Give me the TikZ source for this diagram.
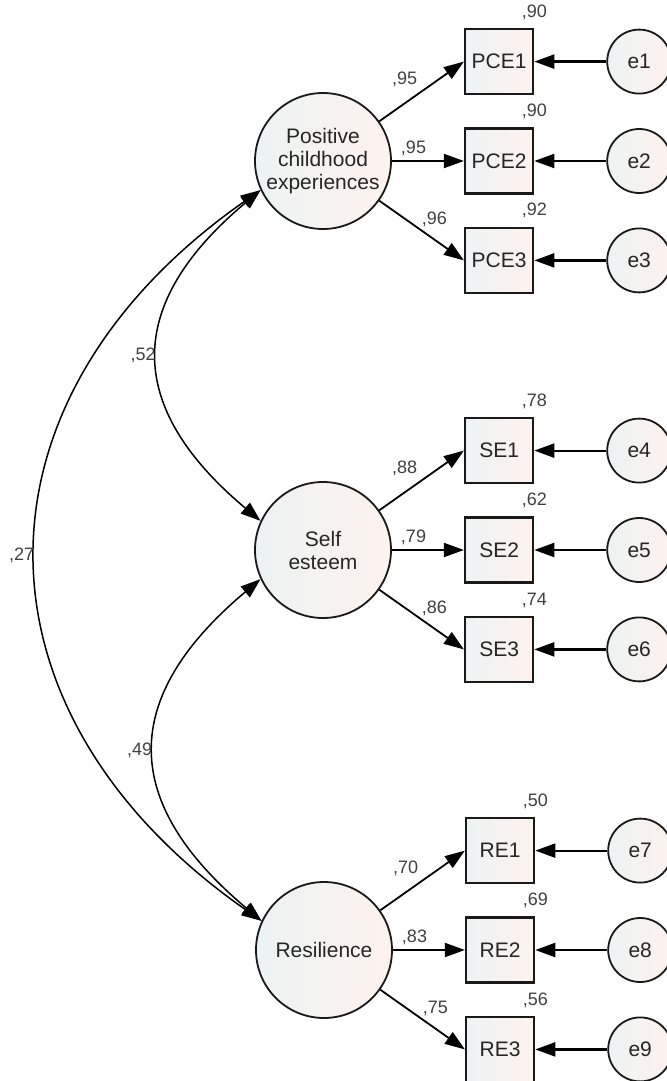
\documentclass[tikz,border=0pt]{standalone}
\usepackage{fontspec}
\setsansfont{Liberation Sans}
\usetikzlibrary{positioning,arrows.meta}

\definecolor{shadeL}{RGB}{236,243,243}
\definecolor{shadeR}{RGB}{254,242,238}

\begin{document}
\begin{tikzpicture}[
  x=0.5pt, y=0.5pt,
  font=\sffamily,
  latent/.style={circle, draw=black!90, line width=0.9pt, minimum size=68pt, inner sep=0pt,
                 left color=shadeL, right color=shadeR, align=center,
                 font=\sffamily\fontsize{10.5}{11.5}\selectfont, text=black!85},
  obs/.style={draw=black!90, line width=1.2pt, minimum width=34pt, minimum height=32.5pt,
              inner sep=0pt, left color=shadeL, right color=shadeR,
              font=\sffamily\fontsize{10.5}{12}\selectfont, text=black!85},
  err/.style={circle, draw=black!90, line width=0.9pt, minimum size=32pt, inner sep=0pt,
              left color=shadeL, right color=shadeR,
              font=\sffamily\fontsize{10.5}{12}\selectfont, text=black!85},
  lbl/.style={font=\sffamily\fontsize{9}{10}\selectfont, text=black!75, inner sep=1pt},
  load/.style={-{Triangle[length=10pt,width=7pt]}, line width=0.9pt},
  resid/.style={-{Triangle[length=10pt,width=7pt]}, line width=1.1pt},
  cov/.style={{Triangle[length=10pt,width=7pt]}-{Triangle[length=10pt,width=7pt]}, line width=0.75pt},
  node distance=16pt and 36pt,
]
  \useasboundingbox (0,0) rectangle (667,-1081);

  % Latent factors
  \node[latent] (pce) at (323,-161) {Positive\\childhood\\experiences};
  \node[latent] (se) at (323,-550) {Self\\esteem};
  \node[latent] (res) at (324,-950) {Resilience};

  % Positive childhood experiences block
  \node[obs, right=of pce] (pce2) {PCE2};
  \node[obs, above=of pce2] (pce1) {PCE1};
  \node[obs, below=of pce2] (pce3) {PCE3};
  \node[err, right=of pce1] (e1) {e1};
  \node[err, right=of pce2] (e2) {e2};
  \node[err, right=of pce3] (e3) {e3};

  % Self esteem block
  \node[obs, right=of se] (se2) {SE2};
  \node[obs, above=of se2] (se1) {SE1};
  \node[obs, below=of se2] (se3) {SE3};
  \node[err, right=of se1] (e4) {e4};
  \node[err, right=of se2] (e5) {e5};
  \node[err, right=of se3] (e6) {e6};

  % Resilience block
  \node[obs, right=of res] (re2) {RE2};
  \node[obs, above=of re2] (re1) {RE1};
  \node[obs, below=of re2] (re3) {RE3};
  \node[err, right=of re1] (e7) {e7};
  \node[err, right=of re2] (e8) {e8};
  \node[err, right=of re3] (e9) {e9};

  % Loadings
  \draw[load] (pce) -- (pce1.west) node[lbl, pos=0.3, above=7pt] (l1) {,95};
  \draw[load] (pce) -- (pce2.west) node[lbl, pos=0.3, above=1pt] (l2) {,95};
  \draw[load] (pce) -- (pce3.west) node[lbl, pos=0.65, above=5pt] (l3) {,96};
  \draw[load] (se) -- (se1.west) node[lbl, pos=0.3, above=7pt] (l4) {,88};
  \draw[load] (se) -- (se2.west) node[lbl, pos=0.3, above=1pt] (l5) {,79};
  \draw[load] (se) -- (se3.west) node[lbl, pos=0.65, above=5pt] (l6) {,86};
  \draw[load] (res) -- (re1.west) node[lbl, pos=0.3, above=7pt] (l7) {,70};
  \draw[load] (res) -- (re2.west) node[lbl, pos=0.3, above=1pt] (l8) {,83};
  \draw[load] (res) -- (re3.west) node[lbl, pos=0.65, above=5pt] (l9) {,75};

  % Residuals
  \draw[resid] (e1) -- (pce1);
  \draw[resid] (e2) -- (pce2);
  \draw[resid] (e3) -- (pce3);
  \draw[resid] (e4) -- (se1);
  \draw[resid] (e5) -- (se2);
  \draw[resid] (e6) -- (se3);
  \draw[resid] (e7) -- (re1);
  \draw[resid] (e8) -- (re2);
  \draw[resid] (e9) -- (re3);

  % Squared multiple correlations
  \node[lbl, above=3pt of pce1.north east] (v1) {,90};
  \node[lbl, above=3pt of pce2.north east] (v2) {,90};
  \node[lbl, above=3pt of pce3.north east] (v3) {,92};
  \node[lbl, above=3pt of se1.north east] (v4) {,78};
  \node[lbl, above=3pt of se2.north east] (v5) {,62};
  \node[lbl, above=3pt of se3.north east] (v6) {,74};
  \node[lbl, above=3pt of re1.north east] (v7) {,50};
  \node[lbl, above=3pt of re2.north east] (v8) {,69};
  \node[lbl, above=3pt of re3.north east] (v9) {,56};

  % Covariances
  \draw[cov] (pce.205) to[out=220, in=140, looseness=1.38] node[lbl, left] (c1) {,52} (se.155);
  \draw[cov] (se.205) to[out=220, in=140, looseness=1.38] node[lbl, left] (c2) {,49} (res.155);
  \draw[cov] (pce.205) to[out=215, in=145, looseness=1.28] node[lbl, left] (c3) {,27} (res.155);
\end{tikzpicture}
\end{document}
